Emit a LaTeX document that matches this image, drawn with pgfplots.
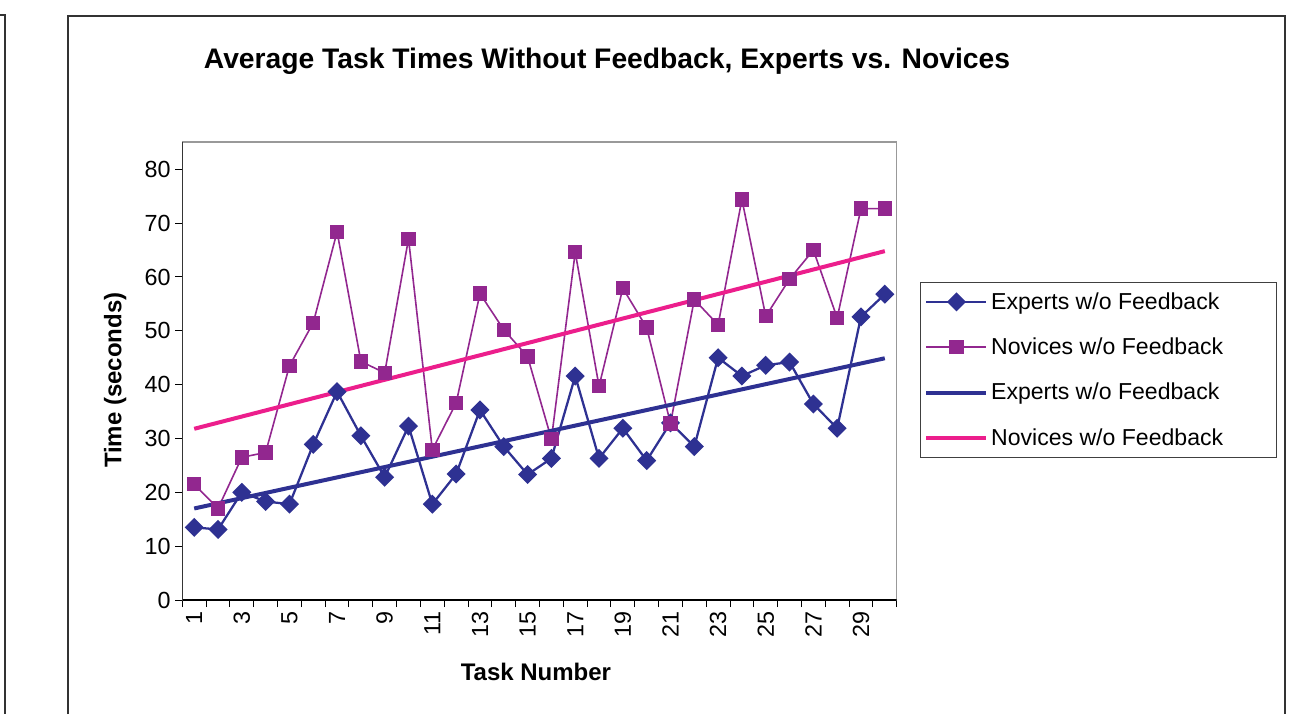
\documentclass[border=0pt]{standalone}
\usepackage{fontspec}
\setmainfont{Liberation Sans}
\usepackage{pgfplots}
\pgfplotsset{compat=1.18}
\definecolor{navy}{RGB}{46,49,146}
\definecolor{purp}{RGB}{146,39,143}
\definecolor{pinkk}{RGB}{236,30,140}
\begin{document}
\begin{tikzpicture}[x=0.75pt,y=0.75pt]
\useasboundingbox (0,0) rectangle (1316,714);
\draw[line width=1.2pt, black!80] (0,699) -- (5,699) -- (5,0);
\draw[line width=1.2pt, black!80] (68,0) -- (68,698) -- (1285,698) -- (1285,0);
\node[font=\bfseries\fontsize{21.2}{25}\selectfont, anchor=base] at (607,645) {Average Task Times Without Feedback, Experts vs. Novices};
\begin{axis}[at={(136.725pt,85.5pt)}, anchor=south west, scale only axis,
  width=535.8pt, height=343.5pt,
  xmin=0.5, xmax=30.5, ymin=0, ymax=85.07,
  ytick={0,10,...,80}, xtick={1,3,...,29}, minor xtick={0.5,1.5,...,30.5},
  major x tick style={draw=none},
  tick pos=left,
  tick align=outside, major tick length=5.25pt, minor tick length=5.25pt,
  tick style={black, line width=0.75pt},
  axis line style={draw=gray!80, line width=1pt},
  /pgf/number format/assume math mode=true,
  ticklabel style={font=\fontsize{17.5}{20}\selectfont},
  xticklabel style={rotate=90, anchor=east},
  ylabel={Time (seconds)}, xlabel={Task Number},
  label style={font=\bfseries\fontsize{18}{21}\selectfont},
  ylabel style={at={(axis description cs:-0.094,0.48)}, anchor=center},
  xlabel style={at={(axis description cs:0.495,-0.157)}, anchor=center},
  legend image code/.code={\draw[mark repeat=2,mark phase=2] plot coordinates {(0pt,0pt) (22.5pt,0pt) (45pt,0pt)};},
  legend style={at={(axis description cs:1.0326,0.6943)}, anchor=north west,
    draw=black!75, line width=0.75pt, font=\fontsize{17.3}{20}\selectfont,
    row sep=16pt, inner ysep=5.5pt, cells={anchor=west}},
]
\addplot[navy, line width=1.7pt, mark=square*, mark size=4.2pt, mark options={rotate=45, solid, fill=navy}] coordinates {
(1,13.5) (2,13.1) (3,20.0) (4,18.3) (5,17.8) (6,28.9) (7,38.7) (8,30.5) (9,22.8) (10,32.3)
(11,17.8) (12,23.4) (13,35.3) (14,28.5) (15,23.3) (16,26.3) (17,41.6) (18,26.3) (19,31.9) (20,25.9)
(21,32.9) (22,28.5) (23,45.0) (24,41.6) (25,43.6) (26,44.2) (27,36.4) (28,31.9) (29,52.6) (30,56.8)};
\addlegendentry{\makebox[209pt][l]{Experts w/o Feedback}}
\addplot[purp, line width=1.2pt, mark=square*, mark size=4.8pt, mark options={solid, fill=purp}] coordinates {
(1,21.5) (2,17.0) (3,26.5) (4,27.4) (5,43.5) (6,51.5) (7,68.4) (8,44.3) (9,42.2) (10,67.1)
(11,27.9) (12,36.6) (13,56.9) (14,50.2) (15,45.2) (16,29.9) (17,64.6) (18,39.7) (19,57.9) (20,50.6)
(21,32.8) (22,55.8) (23,51.1) (24,74.4) (25,52.7) (26,59.6) (27,65.0) (28,52.4) (29,72.7) (30,72.7)};
\addlegendentry{\makebox[209pt][l]{Novices w/o Feedback}}
\addplot[navy, line width=3pt, no marks] coordinates {(1,17.0) (30,44.9)};
\addlegendentry{\makebox[209pt][l]{Experts w/o Feedback}}
\addplot[pinkk, line width=3pt, no marks] coordinates {(1,31.8) (30,64.8)};
\addlegendentry{\makebox[209pt][l]{Novices w/o Feedback}}
\draw[black, line width=1pt] (rel axis cs:0,1) -- (rel axis cs:0,0) -- (rel axis cs:1,0);
\end{axis}
\end{tikzpicture}
\end{document}
